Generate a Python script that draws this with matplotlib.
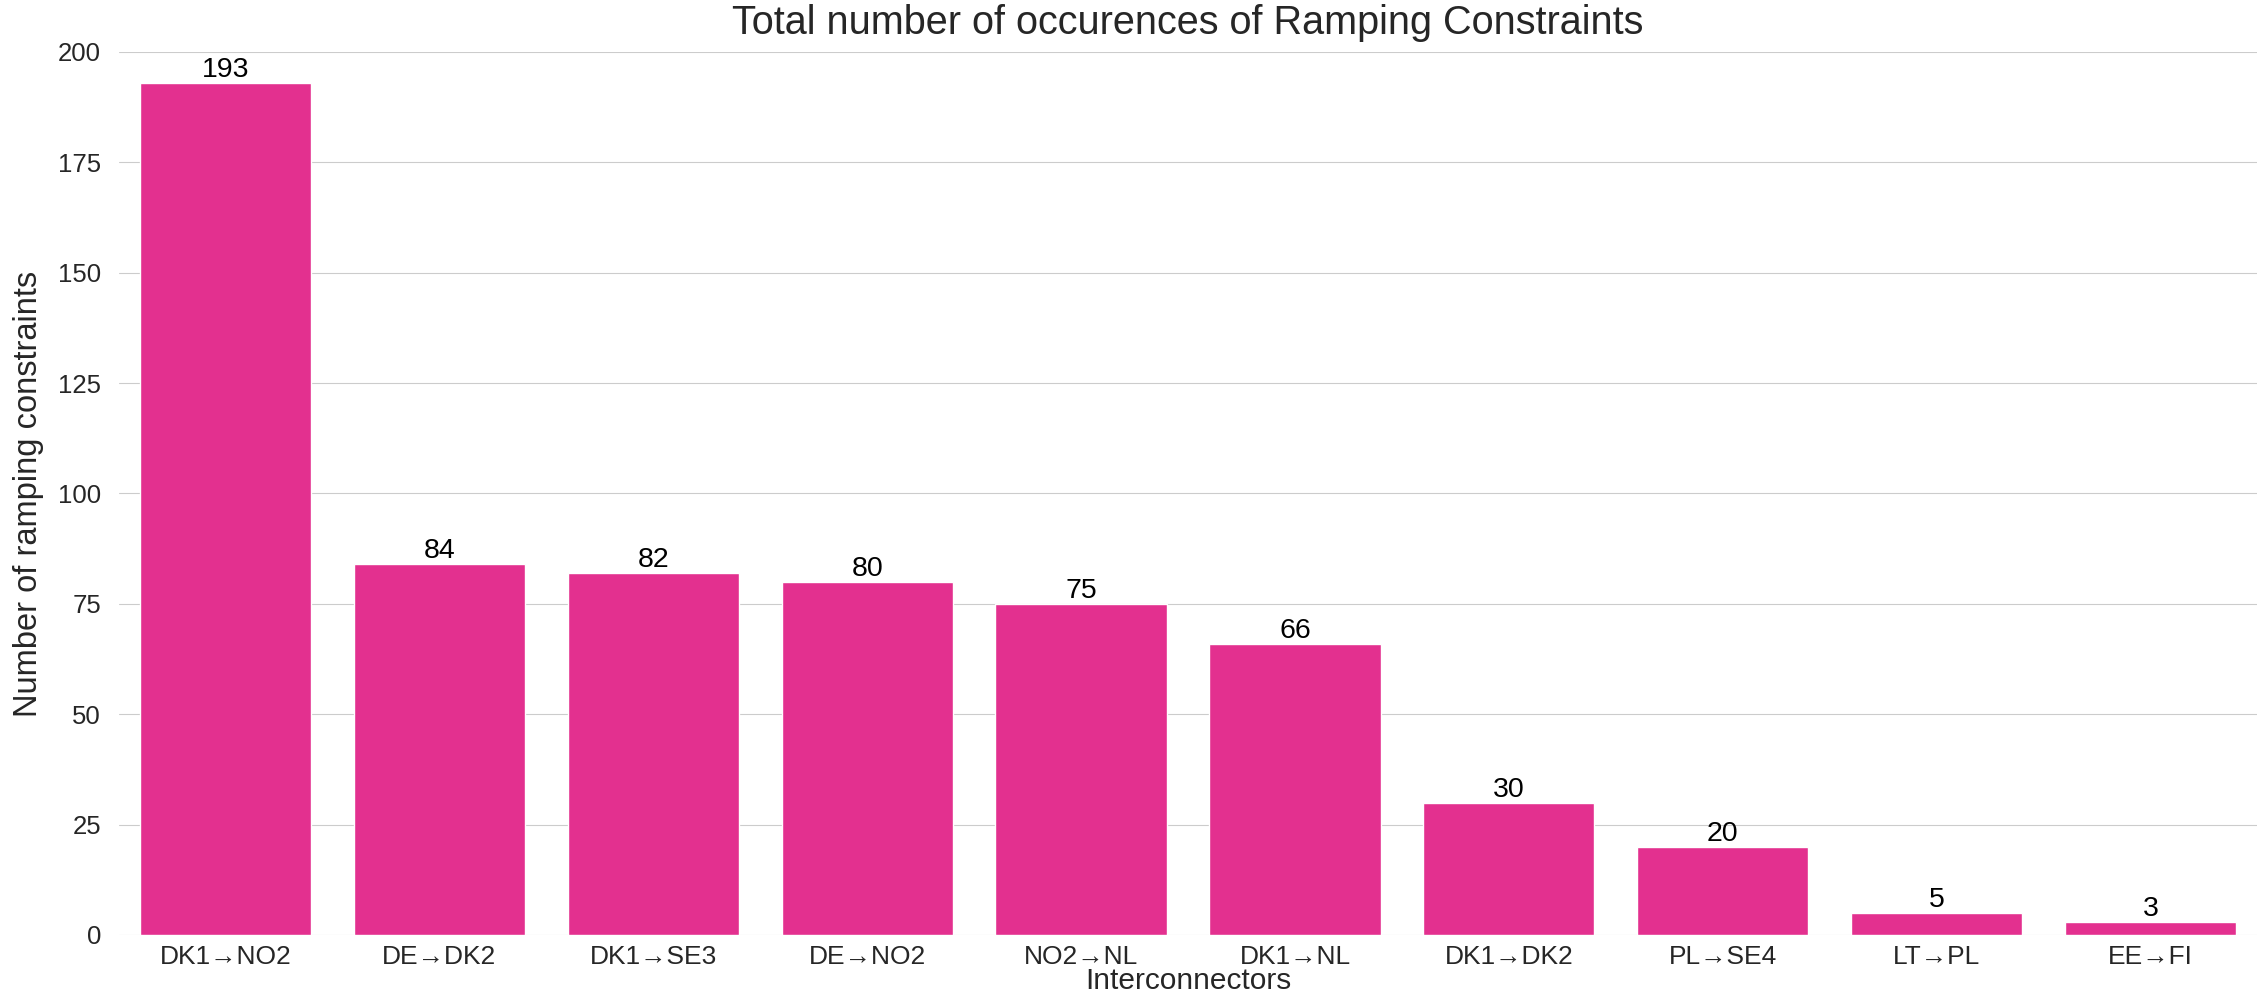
import matplotlib
matplotlib.use("Agg")
import matplotlib.pyplot as plt
import seaborn as sns

sns.set_style("whitegrid")
plt.rcParams['font.family'] = ['Liberation Sans', 'DejaVu Sans']

# Data
interconnectors = ['DK1→NO2', 'DE→DK2', 'DK1→SE3', 'DE→NO2', 'NO2→NL',
                   'DK1→NL', 'DK1→DK2', 'PL→SE4', 'LT→PL', 'EE→FI']
occurrences = [193, 84, 82, 80, 75, 66, 30, 20, 5, 3]

fig, ax = plt.subplots(figsize=(22.62, 9.94), dpi=100)
fig.subplots_adjust(left=0.0524, right=0.998, top=0.9477, bottom=0.0594)

sns.barplot(x=interconnectors, y=occurrences, color='#e3308f', saturation=1, ax=ax)

# value labels on top of the bars
for bar, val in zip(ax.patches, occurrences):
    ax.annotate(str(val), (bar.get_x() + bar.get_width() / 2, bar.get_height()),
                ha='center', va='bottom', fontsize=20.5, color='black',
                xytext=(0, 0), textcoords='offset points')

ax.set_ylim(0, 200)
ax.set_yticks(range(0, 201, 25))
ax.set_title('Total number of occurences of Ramping Constraints', fontsize=28.5, pad=13)
ax.set_xlabel('Interconnectors', fontsize=21.5)
ax.xaxis.set_label_coords(0.5, -0.036)
ax.set_ylabel('Number of ramping constraints', fontsize=23.5, labelpad=10)
ax.tick_params(axis='x', labelsize=19, colors='#262626', pad=3.5)
ax.tick_params(axis='y', labelsize=18.5, colors='#262626', pad=9)
ax.grid(axis='x', visible=False)
sns.despine(left=True, bottom=True)

plt.savefig('out.png', dpi=100)
plt.close()
